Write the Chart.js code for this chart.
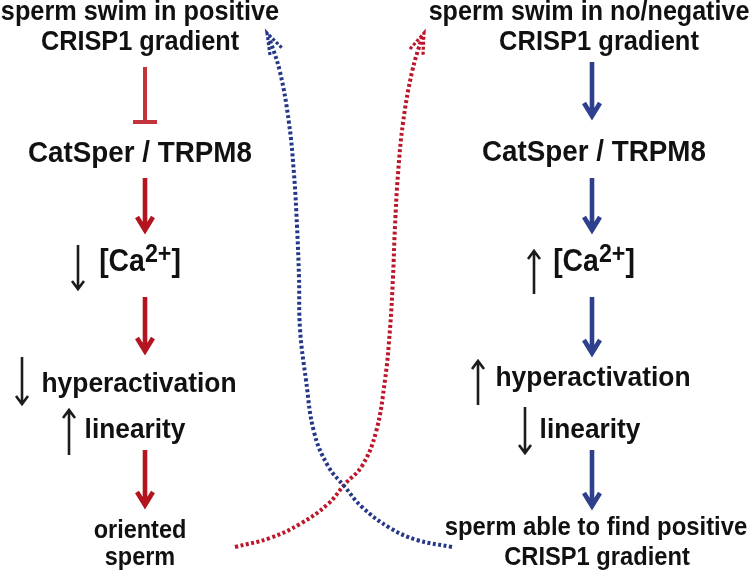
<!DOCTYPE html>
<html><head><meta charset="utf-8">
<script src="https://cdn.jsdelivr.net/npm/chart.js@4"></script>
<style>html,body{margin:0;padding:0;background:#fff;overflow:hidden}#c{display:block}</style>
</head><body>
<canvas id="c" width="754" height="574"></canvas>
<script>
// ---- Diagram data (coordinates in diagram units: x 0..754 left→right, y 0..574 top→bottom) ----
const labelTexts = [
  "sperm swim in positive", "CRISP1 gradient", "CatSper / TRPM8", "[Ca^{2+}]",
  "hyperactivation", "linearity", "oriented", "sperm",
  "sperm swim in no/negative", "CRISP1 gradient", "CatSper / TRPM8", "[Ca^{2+}]",
  "hyperactivation", "linearity", "sperm able to find positive", "CRISP1 gradient"
];
const labelX = [140, 140, 140, 140, 139, 135, 140, 140, 589, 599, 594, 594, 593, 590, 596, 597];
const labelY = [20, 50, 162, 271, 392, 438, 538, 565, 20, 50, 161, 271, 386, 438, 535, 565];

// Left pathway (red): inhibition then activation arrows
const inhibitX = [145], inhibitFrom = [67], inhibitTo = [122];
const redArrowX = [145, 145, 145], redFrom = [178, 297, 450], redTo = [232, 353, 507];
// Right pathway (blue) activation arrows
const blueArrowX = [592, 592, 592, 592], blueFrom = [62, 178, 297, 450], blueTo = [118, 232, 355, 508];
// Small black up/down change indicators
const changeX    = [78, 22, 69, 534, 478, 525];
const changeFrom = [245, 357, 455, 294, 405, 407];
const changeTo   = [291, 406, 408, 249, 359, 455];

// Dotted feedback curves (bottom → top)
const blueCurveX = [452, 417, 390, 362, 345, 328, 314, 306, 300, 299, 297, 294, 289, 280, 269];
const blueCurveY = [547, 540, 528, 507, 487, 466, 432, 380, 329, 277, 226, 174, 123, 72, 37];
const redCurveX  = [235, 270, 300, 328, 345, 362, 376, 385, 390, 393, 395, 398, 403, 412, 422];
const redCurveY  = [547, 538, 524, 504, 484, 466, 432, 380, 329, 277, 226, 174, 123, 72, 37];
const blueTipX = [270, 267, 282], blueTipY = [55, 33, 48];
const redTipX  = [410, 424, 423], redTipY  = [49, 33, 55];

// ---- styles ----
const RED = "#b3141f", RED_INH = "#c3343a", BLUE = "#2e3f8e", BLACK = "#1c1c1c";
const RED_DOT = "#bd1529", BLUE_DOT = "#253788";
const FONT = '"Liberation Sans", Arial, Helvetica, sans-serif';
const labelFontPx = [25.3, 25.3, 27.8, 28.4, 26.4, 26.3, 23.5, 23.5,
                     25.1, 25.5, 27.8, 28.4, 26.4, 26.3, 23.9, 23.7];
const TEXT_VSCALE = 1.08;

const pt = (x, y) => ({ x, y });
const GAP = { x: null, y: null };

function arrowPoints(xs, from, to, half, len) {
  const out = [];
  xs.forEach((x, i) => {
    const dir = Math.sign(to[i] - from[i]);
    const apex = to[i] - dir * 2;
    out.push(pt(x, from[i]), pt(x, apex - dir * 2), GAP);
    out.push(pt(x - half, apex - dir * len), pt(x, apex), pt(x + half, apex - dir * len), GAP);
  });
  return out;
}
function inhibitPoints() {
  const out = [];
  inhibitX.forEach((x, i) => {
    out.push(pt(x, inhibitFrom[i]), pt(x, inhibitTo[i] - 2), GAP);
    out.push(pt(x - 12, inhibitTo[i]), pt(x + 12, inhibitTo[i]), GAP);
  });
  return out;
}
const zip = (xs, ys) => xs.map((x, i) => pt(x, ys[i]));

const base = { showLine: true, pointRadius: 0, pointHoverRadius: 0, fill: false,
               borderCapStyle: "butt", borderJoinStyle: "miter", spanGaps: false, tension: 0 };

const datasets = [
  Object.assign({}, base, { label: "blue curve", data: zip(blueCurveX, blueCurveY), borderColor: BLUE_DOT,
    borderWidth: 4, borderDash: [3, 2.5], tension: 0.4 }),
  Object.assign({}, base, { label: "red curve", data: zip(redCurveX, redCurveY), borderColor: RED_DOT,
    borderWidth: 4, borderDash: [3, 2.5], tension: 0.4 }),
  Object.assign({}, base, { label: "blue tip", data: zip(blueTipX, blueTipY), borderColor: BLUE_DOT,
    borderWidth: 3.2, borderDash: [3, 2] }),
  Object.assign({}, base, { label: "red tip", data: zip(redTipX, redTipY), borderColor: RED_DOT,
    borderWidth: 3.2, borderDash: [3, 2] }),
  Object.assign({}, base, { label: "inhibit", data: inhibitPoints(), borderColor: RED_INH, borderWidth: 4 }),
  Object.assign({}, base, { label: "red arrows", data: arrowPoints(redArrowX, redFrom, redTo, 8, 13),
    borderColor: RED, borderWidth: 4.6 }),
  Object.assign({}, base, { label: "blue arrows", data: arrowPoints(blueArrowX, blueFrom, blueTo, 8, 13),
    borderColor: BLUE, borderWidth: 4.6 }),
  Object.assign({}, base, { label: "changes", data: arrowPoints(changeX, changeFrom, changeTo, 6, 8),
    borderColor: BLACK, borderWidth: 2.6 })
];

const labelPlugin = {
  id: "diagramLabels",
  afterDatasetsDraw(chart) {
    const { ctx, scales: { x, y } } = chart;
    ctx.save();
    ctx.fillStyle = "#111";
    ctx.textBaseline = "alphabetic";
    ctx.textAlign = "left";
    labelTexts.forEach((t, i) => {
      const fs = labelFontPx[i];
      const px = x.getPixelForValue(labelX[i]);
      const py = y.getPixelForValue(labelY[i]);
      const m = t.match(/^(.*)\^\{(.*)\}(.*)$/);
      const parts = m ? [[m[1], fs, 0], [m[2], fs * 0.82, -fs * 0.33], [m[3], fs, 0]] : [[t, fs, 0]];
      let total = 0;
      parts.forEach(p => { ctx.font = "bold " + p[1] + "px " + FONT; p.push(ctx.measureText(p[0]).width); total += p[3]; });
      let cx = px - total / 2;
      parts.forEach(p => {
        ctx.save();
        ctx.font = "bold " + p[1] + "px " + FONT;
        ctx.translate(cx, py + p[2]);
        ctx.scale(1, TEXT_VSCALE);
        ctx.fillText(p[0], 0, 0);
        ctx.restore();
        cx += p[3];
      });
    });
    ctx.restore();
  }
};

new Chart(document.getElementById("c"), {
  type: "scatter",
  data: { datasets },
  options: {
    responsive: false, animation: false, events: [],
    layout: { padding: 0 },
    scales: {
      x: { type: "linear", min: 0, max: 754, display: false },
      y: { type: "linear", min: 0, max: 574, reverse: true, display: false }
    },
    plugins: { legend: { display: false }, tooltip: { enabled: false } }
  },
  plugins: [labelPlugin]
});
</script>
</body></html>
